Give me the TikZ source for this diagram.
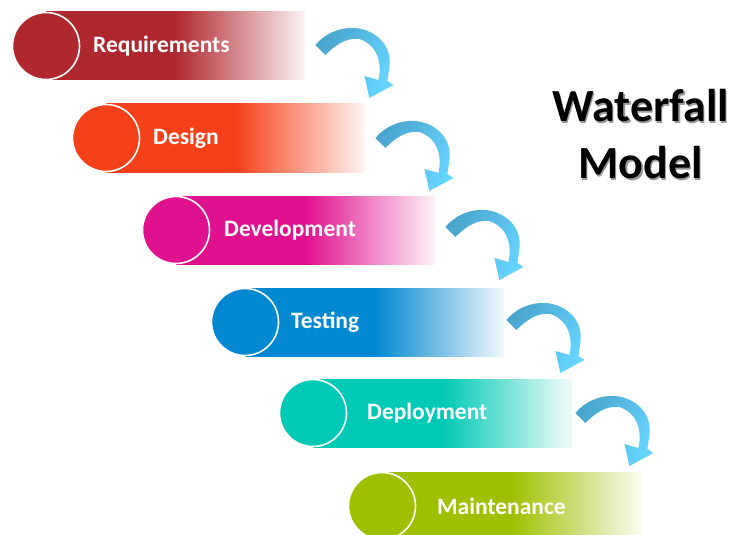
\documentclass[tikz,border=0pt]{standalone}
\usepackage{fontspec}
\setmainfont{Carlito}
\usetikzlibrary{positioning}

\definecolor{reqCol}{HTML}{B0282F}
\definecolor{desCol}{HTML}{F4411A}
\definecolor{devCol}{HTML}{E0118F}
\definecolor{tesCol}{HTML}{0088D1}
\definecolor{depCol}{HTML}{00C9B5}
\definecolor{mntCol}{HTML}{9DC100}
\definecolor{arrDark}{HTML}{4AA6CE}
\definecolor{arrLight}{HTML}{66D4FF}

\def\barLen{259}
\def\barHt{68}

\begin{document}
\begin{tikzpicture}[
    x=1pt, y=-1pt,
    phase/.style={shape=rectangle, minimum width=\barLen, minimum height=\barHt,
      inner sep=0, anchor=west, left color=#1, right color=#1!5, middle color=#1},
    knob/.style={shape=circle, draw=white, line width=1.6pt, fill=#1,
      minimum size=\barHt-1, inner sep=0},
    phasetext/.style={text=white, font=\fontsize{23.5}{25}\selectfont\bfseries,
      anchor=west, inner sep=0},
    flow/.style={left color=arrDark, right color=arrLight, shading angle=60},
    title/.style={font=\fontsize{46}{57}\selectfont\bfseries, align=center, inner sep=0},
  ]
  \useasboundingbox (0,0) rectangle (732,535);

  % Phases
  \foreach \itm/\col/\cx/\cy/\tx [count=\i] in
    {Requirements/reqCol/46/46/47, Design/desCol/106/138/47,
     Development/devCol/176/230/48, Testing/tesCol/245/322/46,
     Deployment/depCol/313/413/54, Maintenance/mntCol/382/506/55} {
      \node[phase=\col] (bar\i) at (\cx,\cy) {};
      \node[knob=\col] (knob\i) at (\cx,\cy) {};
      \node[phasetext] (label\i) at (\cx+\tx,\cy) {\itm};
    }

  % Arrows between phases
  \foreach \i/\dx/\dy in {1/10/-1, 2/10/0, 3/10/-3, 4/2/-2, 5/3/0} {
    \begin{scope}[shift={(bar\i.east)}, xshift=\dx, yshift=-\dy]
      \shade[flow] (0,0) .. controls (10,-12) and (25,-18) .. (40,-17)
        .. controls (60,-15) and (77,0) .. (74,22) -- (72,36) -- (78,40)
        -- (54,53) -- (49,31) -- (63,35)
        .. controls (67,18) and (62,0) .. (44,-6)
        .. controls (30,-8) and (18,2) .. (10,10) -- cycle;
    \end{scope}
  }

  % Title
  \node[title, text=black!40] (titleshadow) at (642,136) {Waterfall\\Model};
  \node[title] (title) at (640.5,134.5) {Waterfall\\Model};
\end{tikzpicture}
\end{document}
